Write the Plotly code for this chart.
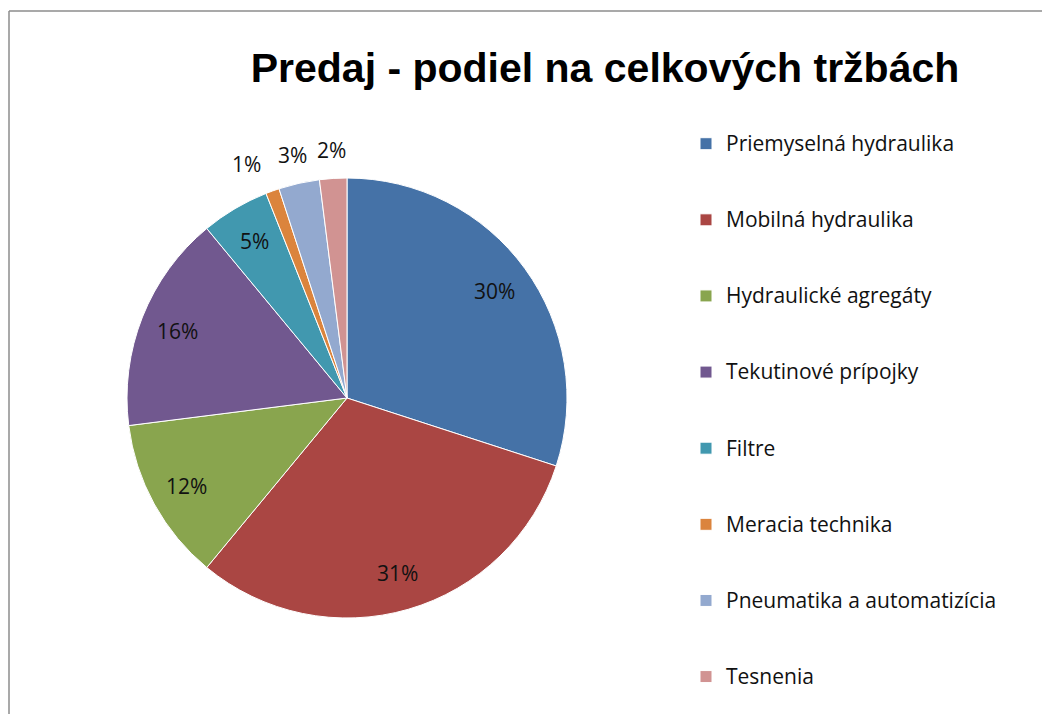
import math
import plotly.graph_objects as go

# podiel na celkových tržbách (%)
labels = [
    "Priemyselná hydraulika",
    "Mobilná hydraulika",
    "Hydraulické agregáty",
    "Tekutinové prípojky",
    "Filtre",
    "Meracia technika",
    "Pneumatika a automatizícia",
    "Tesnenia",
]
values = [30, 31, 12, 16, 5, 1, 3, 2]
colors = ["#4572A7", "#AA4643", "#89A54E", "#71588F",
          "#4198AF", "#DB843D", "#93A9CF", "#D19392"]

W, H = 1050, 714
CX, CY, R = 339, 390, 220  # pie centre and radius in px

# trailing blank lines give the legend its loose spacing (none on the last one)
legend_labels = [
    f"<span style='font-size:21px'>{name}</span>" + ("<br> <br> " if i < len(labels) - 1 else "")
    for i, name in enumerate(labels)
]

fig = go.Figure(
    go.Pie(
        labels=legend_labels,
        values=values,
        sort=False,
        direction="clockwise",
        rotation=0,
        marker=dict(colors=colors, line=dict(color="white", width=1)),
        textinfo="none",
        hovertemplate="%{label}: %{value}%<extra></extra>",
        domain=dict(x=[(CX - R) / W, (CX + R) / W], y=[1 - (CY + R) / H, 1 - (CY - R) / H]),
    )
)

# percentage labels along each slice's middle angle, small slices outside
total = sum(values)
cum = 0
annotations = []
for v in values:
    theta = 2 * math.pi * (cum + v / 2) / total
    cum += v
    outside = v < 5
    rr = R * (1.13 if outside else 0.83)
    px = CX + rr * math.sin(theta)
    py = CY - rr * math.cos(theta)
    anchor = "right" if outside and math.sin(theta) < -0.3 else "center"
    annotations.append(dict(
        x=px / W, y=1 - py / H, xref="paper", yref="paper",
        text=f"{round(100 * v / total)}%", showarrow=False,
        xanchor=anchor, yanchor="middle",
        font=dict(family="Open Sans", size=21, color="#111111"),
    ))

fig.update_layout(
    width=W,
    height=H,
    margin=dict(l=0, r=0, t=0, b=0),
    paper_bgcolor="white",
    title=dict(
        text="<b>Predaj - podiel na celkových tržbách</b>",
        font=dict(family="Liberation Sans, Arial, sans-serif", size=41, color="black"),
        x=597 / W,
        xanchor="center",
        y=1 - 60 / H,
        yanchor="middle",
    ),
    legend=dict(
        x=678 / W,
        xanchor="left",
        y=1 - 117 / H,
        yanchor="top",
        valign="top",
        font=dict(family="Open Sans", size=18.75, color="#111111"),
        bgcolor="rgba(0,0,0,0)",
    ),
    annotations=annotations,
    shapes=[
        dict(type="line", xref="paper", yref="paper",
             x0=1 / W, x1=1.05, y0=1 - 3 / H, y1=1 - 3 / H,
             line=dict(color="#8c8c8c", width=1.5)),
        dict(type="line", xref="paper", yref="paper",
             x0=1 / W, x1=1 / W, y0=1 - 3 / H, y1=-0.05,
             line=dict(color="#8c8c8c", width=1.5)),
    ],
)

fig.write_html("out.html")
